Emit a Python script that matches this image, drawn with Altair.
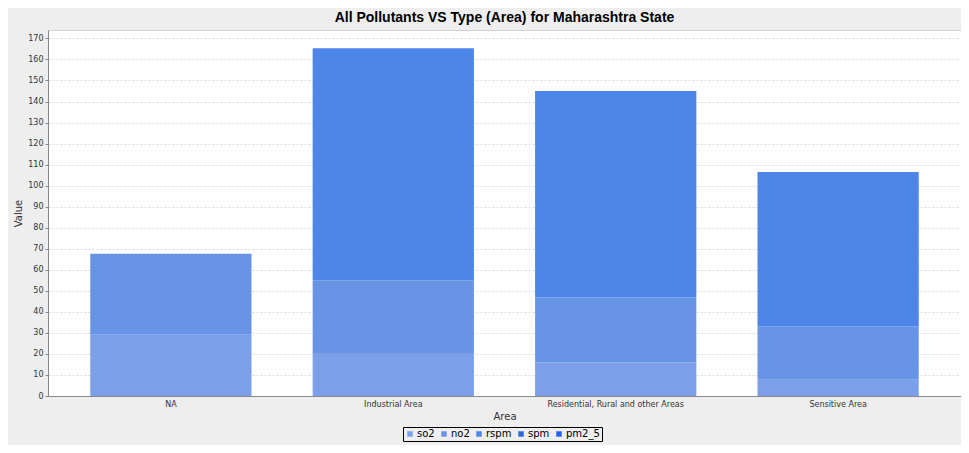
import altair as alt
import pandas as pd

areas = ["NA", "Industrial Area", "Residential, Rural and other Areas", "Sensitive Area"]
pollutants = ["so2", "no2", "rspm", "spm", "pm2_5"]
so2 = [29.1, 20.5, 15.9, 7.7]
no2 = [38.5, 34.5, 31.1, 25.5]
rspm = [0.0, 110.3, 98.0, 73.3]
spm = [0.0, 0.0, 0.0, 0.0]
pm2_5 = [0.0, 0.0, 0.0, 0.0]
colors = ["#7B9FE9", "#6894E6", "#4D85E8", "#2E6AD8", "#2563EB"]
y_ticks = list(range(0, 171, 10))

series = {"so2": so2, "no2": no2, "rspm": rspm, "spm": spm, "pm2_5": pm2_5}
rows = []
for pi, p in enumerate(pollutants):
    for ai, a in enumerate(areas):
        rows.append({"Area": a, "Pollutant": p, "Value": series[p][ai], "ord": pi})
df = pd.DataFrame(rows)

font = "DejaVu Sans"

chart = alt.Chart(df).mark_bar().encode(
    x=alt.X("Area:N", sort=areas,
            scale=alt.Scale(paddingInner=0.275, paddingOuter=0.19),
            axis=alt.Axis(title="Area", labelAngle=0, ticks=False, labelPadding=4,
                          labelFontSize=8, labelColor="#333333", titleFontSize=10,
                          titleFontWeight="normal", titleColor="#333333", titlePadding=3,
                          labelFont=font, titleFont=font, domainColor="#888888")),
    y=alt.Y("Value:Q", stack="zero",
            scale=alt.Scale(domain=[0, 174], nice=False, zero=True),
            axis=alt.Axis(title="Value", values=y_ticks, tickSize=3, labelPadding=2,
                          labelFontSize=8, labelColor="#333333", titleFontSize=10,
                          titleFontWeight="normal", titleColor="#333333", titlePadding=4,
                          labelFont=font, titleFont=font, domainColor="#888888",
                          tickColor="#888888", gridDash=[2, 2], gridColor="#D8D8D8")),
    color=alt.Color("Pollutant:N", sort=pollutants,
                    scale=alt.Scale(domain=pollutants, range=colors),
                    legend=alt.Legend(title=None, orient="none", legendX=355, legendY=397,
                                      direction="horizontal",
                                      symbolType="square", symbolSize=30, labelFontSize=10,
                                      labelFont=font, labelColor="#000000", strokeColor="#000000",
                                      padding=2, columnPadding=4, labelOffset=2,
                                      symbolStrokeWidth=0)),
    order=alt.Order("ord:Q", sort="ascending"),
).properties(
    width=913,
    height=366,
    title=alt.TitleParams("All Pollutants VS Type (Area) for  Maharashtra State",
                          font="Liberation Sans", fontSize=14, fontWeight="bold",
                          color="#000000", anchor="middle", offset=5),
    background="#EEEEEE",
    padding={"left": 40, "top": 22, "right": 0, "bottom": 49},
    autosize=alt.AutoSizeParams(type="none"),
).configure_view(stroke="#D0D0D0", fill="white")

chart.save("out.html", embed_options={"renderer": "svg", "actions": False})
